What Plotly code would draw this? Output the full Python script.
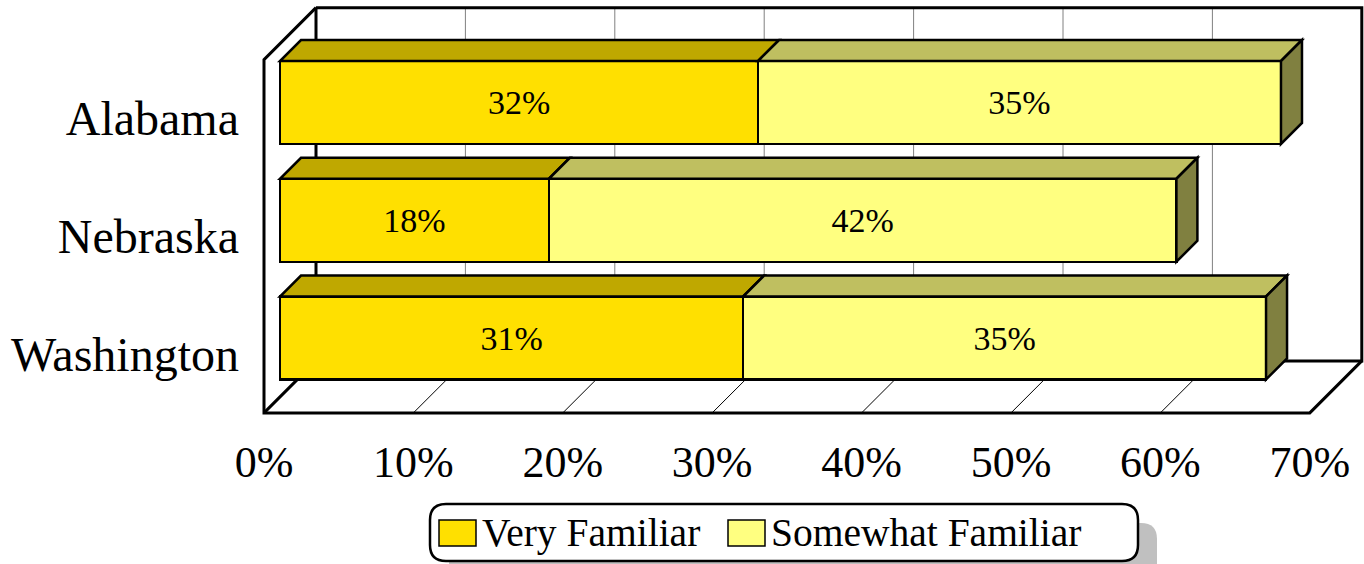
import plotly.graph_objects as go

# ---------------- data ----------------
categories = ["Alabama", "Nebraska", "Washington"]
very_familiar = [32, 18, 31]
somewhat_familiar = [35, 42, 35]
series_names = ["Very Familiar", "Somewhat Familiar"]
tick_values = [0, 10, 20, 30, 40, 50, 60, 70]
tick_labels = [f"{v}%" for v in tick_values]

# ---------------- style ----------------
FONT = "Liberation Serif, Times New Roman, serif"
VF_FRONT, VF_TOP, VF_SIDE = "#FFE000", "#BFA800", "#807000"
SF_FRONT, SF_TOP, SF_SIDE = "#FFFF80", "#BFBF60", "#808040"
W, H = 1364, 564
L, R, T, B = 250, 1364, 0, 420          # plot area in pixels
SX = 14.94                               # px per percent
X0 = 280                                 # pixel of 0% on bar front plane
SY = 117.75                              # px per category
Y0 = 102.5                               # pixel of first category centre on bar front plane
DF, DB, DW = 16, 37, 52                  # depths: bar front, bar back, wall
BAR_W = 83 / SY
XMAX = 70

def proj(x, y, d):
    return x + (d - DF) / SX, y - (d - DF) / SY

def path(pts):
    return "M " + " L ".join(f"{x:.4f},{y:.4f}" for x, y in pts) + " Z"

def line_path(pts):
    return "M " + " L ".join(f"{x:.4f},{y:.4f}" for x, y in pts)

ypos = list(range(len(categories)))
ylo, yhi = -0.5, len(categories) - 0.5

fig = go.Figure()
fig.add_trace(go.Bar(
    y=ypos, x=very_familiar, orientation="h", name=series_names[0],
    width=BAR_W, marker=dict(color=VF_FRONT, line=dict(color="black", width=2.5)),
    text=[f"{v}%" for v in very_familiar], textposition="inside",
    insidetextanchor="middle", textangle=0,
    textfont=dict(family=FONT, size=34, color="black"), hoverinfo="skip"))
fig.add_trace(go.Bar(
    y=ypos, x=somewhat_familiar, orientation="h", name=series_names[1],
    width=BAR_W, marker=dict(color=SF_FRONT, line=dict(color="black", width=2.5)),
    text=[f"{v}%" for v in somewhat_familiar], textposition="inside",
    insidetextanchor="middle", textangle=0,
    textfont=dict(family=FONT, size=34, color="black"), hoverinfo="skip"))
# dummy traces so the label axes exist
fig.add_trace(go.Scatter(x=[], y=[], xaxis="x2", yaxis="y", showlegend=False, hoverinfo="skip"))
fig.add_trace(go.Scatter(x=[], y=[], xaxis="x", yaxis="y2", showlegend=False, hoverinfo="skip"))

shapes = []
# back wall grid lines and floor diagonals
for v in tick_values[1:-1]:
    shapes.append(dict(type="path", path=line_path([proj(v, ylo, DW), proj(v, yhi, DW)]),
                       xref="x", yref="y", line=dict(color="#808080", width=1), layer="below"))
    shapes.append(dict(type="path", path=line_path([proj(v, yhi, 0), proj(v, yhi, DW)]),
                       xref="x", yref="y", line=dict(color="black", width=1), layer="below"))
frame_lines = [
    [proj(0, ylo, DW), proj(XMAX, ylo, DW), proj(XMAX, yhi, DW), proj(0, yhi, DW), proj(0, ylo, DW)],
    [proj(0, ylo, DW), proj(0, ylo, 0), proj(0, yhi, 0), proj(XMAX, yhi, 0), proj(XMAX, yhi, DW)],
    [proj(0, yhi, 0), proj(0, yhi, DW)],
]
for pts in frame_lines:
    shapes.append(dict(type="path", path=line_path(pts), xref="x", yref="y",
                       line=dict(color="black", width=3), layer="below"))

# 3-D faces of the bars
for i, (a, b) in enumerate(zip(very_familiar, somewhat_familiar)):
    yt, yb = i - BAR_W / 2, i + BAR_W / 2
    segs = [(0, a, VF_TOP), (a, a + b, SF_TOP)]
    for x0, x1, col in segs:
        pts = [proj(x0, yt, DF), proj(x1, yt, DF), proj(x1, yt, DB), proj(x0, yt, DB)]
        shapes.append(dict(type="path", path=path(pts), xref="x", yref="y",
                           fillcolor=col, line=dict(color="black", width=2.5), layer="above"))
    tot = a + b
    pts = [proj(tot, yt, DF), proj(tot, yb, DF), proj(tot, yb, DB), proj(tot, yt, DB)]
    shapes.append(dict(type="path", path=path(pts), xref="x", yref="y",
                       fillcolor=SF_SIDE, line=dict(color="black", width=2.5), layer="above"))

# ---------------- custom legend ----------------
PW, PH = R - L, B - T
def px(x):
    return (x - L) / PW
def py(y):
    return (B - y) / PH

def rounded(x0, y0, x1, y1, r):
    rx, ry = r / PW, r / PH
    X0_, X1_, Y0_, Y1_ = px(x0), px(x1), py(y0), py(y1)
    return (f"M {X0_+rx},{Y0_} L {X1_-rx},{Y0_} Q {X1_},{Y0_} {X1_},{Y0_-ry} "
            f"L {X1_},{Y1_+ry} Q {X1_},{Y1_} {X1_-rx},{Y1_} L {X0_+rx},{Y1_} "
            f"Q {X0_},{Y1_} {X0_},{Y1_+ry} L {X0_},{Y0_-ry} Q {X0_},{Y0_} {X0_+rx},{Y0_} Z")

LEG = (430, 504, 1138, 561)
shapes.append(dict(type="path", path=rounded(LEG[0] + 19, LEG[1] + 19, LEG[2] + 19, LEG[3] + 19, 16),
                   xref="paper", yref="paper", fillcolor="#C0C0C0", line=dict(width=0), layer="above"))
shapes.append(dict(type="path", path=rounded(*LEG, 16), xref="paper", yref="paper",
                   fillcolor="white", line=dict(color="black", width=2.5), layer="above"))
leg_items = [(439, VF_FRONT, series_names[0]), (728, SF_FRONT, series_names[1])]
annotations = []
for x0, col, name in leg_items:
    shapes.append(dict(type="rect", x0=px(x0), x1=px(x0 + 37), y0=py(520), y1=py(546),
                       xref="paper", yref="paper", fillcolor=col,
                       line=dict(color="black", width=1.5), layer="above"))
    annotations.append(dict(x=px(x0 + 41), y=py(533), xref="paper", yref="paper",
                            text=name, showarrow=False, xanchor="left", yanchor="middle",
                            font=dict(family=FONT, size=39.5, color="black")))

xr = [(L - X0) / SX, (R - X0) / SX]
yr = [(B - Y0) / SY, (T - Y0) / SY]
fig.update_layout(
    width=W, height=H, barmode="stack", showlegend=False,
    paper_bgcolor="white", plot_bgcolor="white",
    margin=dict(l=L, r=W - R, t=T, b=H - B),
    xaxis=dict(range=xr, visible=False, fixedrange=True),
    yaxis=dict(range=yr, visible=False, fixedrange=True),
    xaxis2=dict(overlaying="x", anchor="y", side="bottom",
                range=[xr[0] + DF / SX, xr[1] + DF / SX],
                tickmode="array", tickvals=tick_values, ticktext=tick_labels,
                showgrid=False, zeroline=False, showline=False, ticks="",
                ticklabelstandoff=12,
                tickfont=dict(family=FONT, size=44, color="black"), fixedrange=True),
    yaxis2=dict(overlaying="y", anchor="x", side="left",
                range=[yr[0] - DF / SY, yr[1] - DF / SY],
                tickmode="array", tickvals=ypos, ticktext=categories,
                showgrid=False, zeroline=False, showline=False, ticks="",
                ticklabelstandoff=10,
                tickfont=dict(family=FONT, size=48, color="black"), fixedrange=True),
    shapes=shapes, annotations=annotations,
)
fig.write_html("out.html")
